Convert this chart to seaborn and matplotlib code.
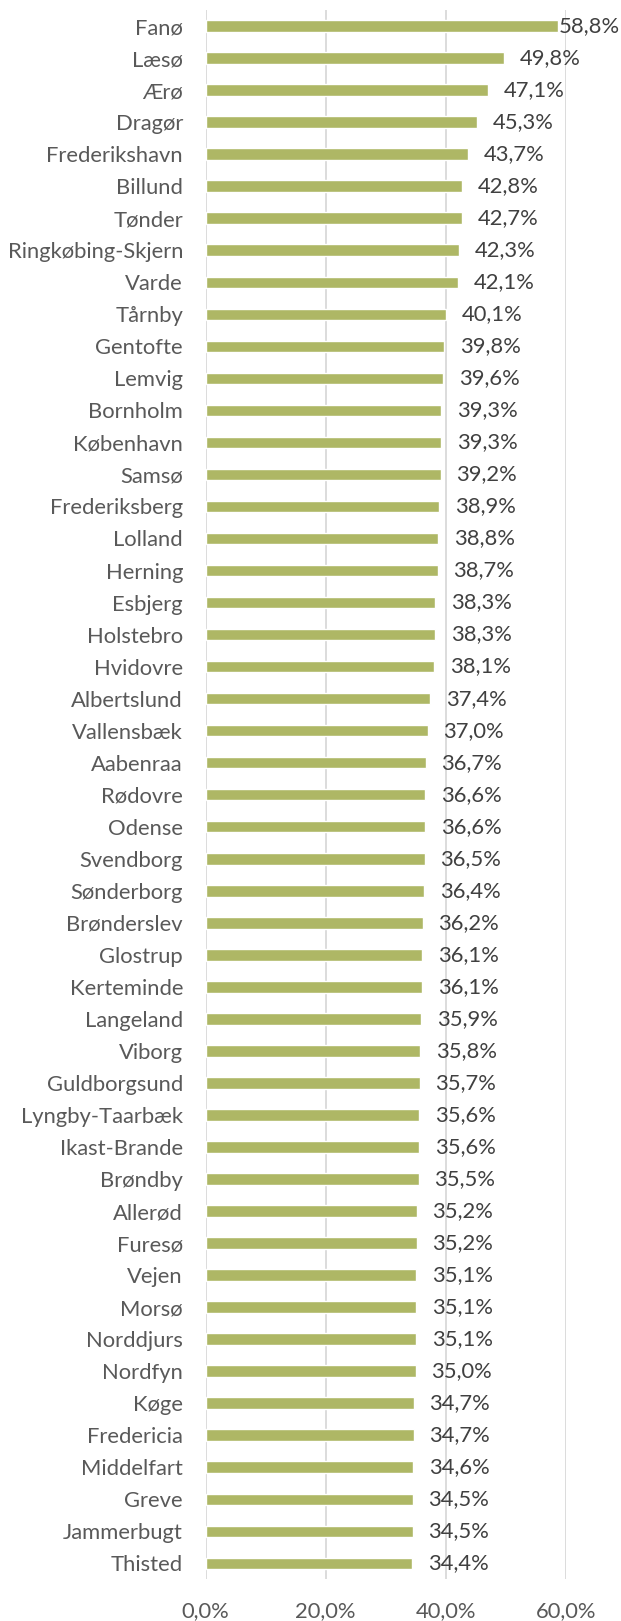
import matplotlib
matplotlib.use("Agg")
import matplotlib.pyplot as plt
import seaborn as sns
import pandas as pd

municipalities = [
    "Fanø", "Læsø", "Ærø", "Dragør", "Frederikshavn", "Billund", "Tønder",
    "Ringkøbing-Skjern", "Varde", "Tårnby", "Gentofte", "Lemvig", "Bornholm",
    "København", "Samsø", "Frederiksberg", "Lolland", "Herning", "Esbjerg",
    "Holstebro", "Hvidovre", "Albertslund", "Vallensbæk", "Aabenraa", "Rødovre",
    "Odense", "Svendborg", "Sønderborg", "Brønderslev", "Glostrup", "Kerteminde",
    "Langeland", "Viborg", "Guldborgsund", "Lyngby-Taarbæk", "Ikast-Brande",
    "Brøndby", "Allerød", "Furesø", "Vejen", "Morsø", "Norddjurs", "Nordfyn",
    "Køge", "Fredericia", "Middelfart", "Greve", "Jammerbugt", "Thisted",
]
shares = [
    58.8, 49.8, 47.1, 45.3, 43.7, 42.8, 42.7,
    42.3, 42.1, 40.1, 39.8, 39.6, 39.3,
    39.3, 39.2, 38.9, 38.8, 38.7, 38.3,
    38.3, 38.1, 37.4, 37.0, 36.7, 36.6,
    36.6, 36.5, 36.4, 36.2, 36.1, 36.1,
    35.9, 35.8, 35.7, 35.6, 35.6,
    35.5, 35.2, 35.2, 35.1, 35.1, 35.1, 35.0,
    34.7, 34.7, 34.6, 34.5, 34.5, 34.4,
]
x_ticks = [0, 20, 40, 60]
x_tick_labels = ["0,0%", "20,0%", "40,0%", "60,0%"]

df = pd.DataFrame({"kommune": municipalities, "andel": shares})

sns.set_theme(style="white")
plt.rcParams["font.family"] = ["Lato", "DejaVu Sans"]

fig = plt.figure(figsize=(6.21, 16.21), dpi=100)
ax = fig.add_axes([0.3312, 0.0257, 0.5797, 0.9681])

sns.barplot(data=df, x="andel", y="kommune", color="#AEB765", saturation=1,
            width=0.36, orient="h", ax=ax, zorder=3)

ax.set_xlim(0, 60)
ax.set_ylim(len(municipalities) - 0.5, -0.5)
ax.set_xticks(x_ticks)
ax.set_xticklabels(x_tick_labels)
ax.set_xlabel("")
ax.set_ylabel("")
ax.xaxis.grid(True, color="#D9D9D9", linewidth=1.3, zorder=0)
ax.yaxis.grid(False)
for s in ax.spines.values():
    s.set_visible(False)
ax.tick_params(axis="y", length=0, pad=16.3, labelsize=15.8, labelcolor="#595959")
ax.tick_params(axis="x", length=0, pad=16, labelsize=15.8, labelcolor="#595959")

# value labels: just right of each bar, kept inside the chart area
for i, v in enumerate(shares):
    xpos = min(v + 2.6, 58.8)
    ax.text(xpos, i, f"{v:.1f}%".replace(".", ","), va="center", ha="left",
            fontsize=15.8, color="#404040", clip_on=False, zorder=4)

fig.savefig("out.png", dpi=100, facecolor="white")
